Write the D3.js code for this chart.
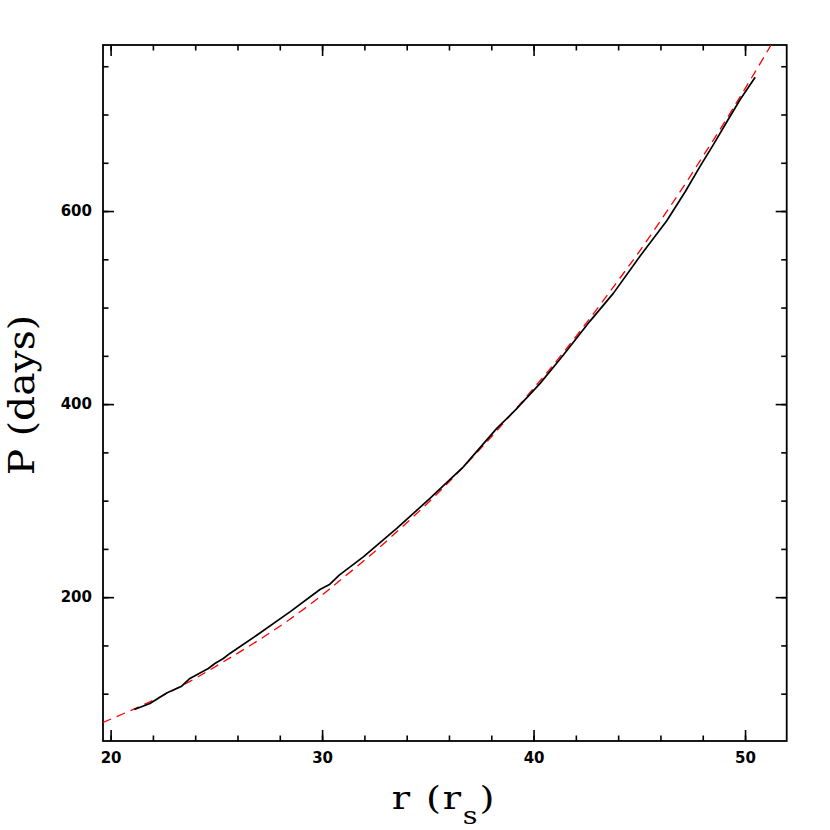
<!DOCTYPE html>
<html>
<head>
<meta charset="utf-8">
<script src="https://cdn.jsdelivr.net/npm/d3@7"></script>
<style>
  html, body { margin: 0; padding: 0; background: #fff; }
  svg { display: block; }
</style>
</head>
<body>
<svg id="chart" width="830" height="830"></svg>
<script>
// ---- Data ----
const simR = [21.12, 21.86, 22.65, 23.36, 23.75, 24.62, 24.93, 25.33, 25.64, 26.91, 28.48, 29.90, 30.37, 30.81, 31.95, 33.53, 35.10, 36.68, 38.26, 39.17, 40.31, 41.41, 42.67, 43.77, 45.04, 46.30, 47.17, 47.88, 48.51, 49.14, 49.77, 50.48];
const simP = [83.6, 89.9, 100.8, 107.8, 115.8, 126.1, 131.3, 136.5, 141.7, 160.6, 184.8, 208.0, 213.5, 222.8, 241.8, 271.2, 302.3, 335.0, 374.8, 394.5, 421.5, 450.8, 486.0, 514.7, 553.5, 590.0, 620.0, 646.5, 669.0, 692.5, 715.5, 738.5];

const fitR = [19.64, 21.86, 23.75, 25.33, 26.91, 28.48, 30.06, 30.81, 32.11, 33.53, 34.95, 36.21, 37.47, 38.26, 39.99, 41.25, 42.67, 43.94, 45.04, 46.22, 47.09, 47.88, 48.51, 49.14, 49.77, 50.48, 51.27];
const fitP = [70.2, 91.6, 112.8, 133.0, 154.2, 177.2, 203.2, 216.8, 240.1, 267.7, 296.5, 324.0, 353.3, 372.4, 416.1, 449.1, 489.0, 526.2, 559.3, 597.0, 625.3, 652.3, 673.8, 695.9, 718.5, 744.2, 773.5];

const xMajorTicks = [20, 30, 40, 50];
const xMinorTicks = [20, 22, 24, 26, 28, 30, 32, 34, 36, 38, 40, 42, 44, 46, 48, 50];
const yMajorTicks = [200, 400, 600];
const yMinorTicks = [100, 150, 200, 250, 300, 350, 400, 450, 500, 550, 600, 650, 700, 750];

const xDomain = [19.64, 51.97];
const yDomain = [51, 772];

// ---- Layout ----
const svg = d3.select("#chart");
const L = 103, R = 786.7, T = 45, B = 741;

const x = d3.scaleLinear().domain(xDomain).range([L, R]);
const y = d3.scaleLinear().domain(yDomain).range([B, T]);

const tickFont = "'DejaVu Sans', sans-serif";
const MAJ = 11, MIN = 5.5;

svg.append("defs").append("clipPath").attr("id", "clip")
  .append("rect").attr("x", L).attr("y", T).attr("width", R - L).attr("height", B - T);

function styleAxis(g) {
  g.select(".domain").remove();
  g.selectAll(".tick line").attr("stroke", "#000").attr("stroke-width", 1.6);
  g.selectAll(".tick text").attr("fill", "#000")
    .style("font-family", tickFont).style("font-size", "15px").style("font-weight", "bold");
}

// bottom
svg.append("g").attr("transform", `translate(0,${B})`)
  .call(d3.axisBottom(x).tickValues(xMinorTicks).tickSizeInner(-MIN).tickSizeOuter(0).tickFormat(""))
  .call(styleAxis);
svg.append("g").attr("transform", `translate(0,${B})`)
  .call(d3.axisBottom(x).tickValues(xMajorTicks).tickSizeInner(-MAJ).tickSizeOuter(0).tickPadding(11).tickFormat(d3.format("d")))
  .call(styleAxis);
// top
svg.append("g").attr("transform", `translate(0,${T})`)
  .call(d3.axisTop(x).tickValues(xMinorTicks).tickSizeInner(-MIN).tickSizeOuter(0).tickFormat(""))
  .call(styleAxis);
svg.append("g").attr("transform", `translate(0,${T})`)
  .call(d3.axisTop(x).tickValues(xMajorTicks).tickSizeInner(-MAJ).tickSizeOuter(0).tickFormat(""))
  .call(styleAxis);
// left
svg.append("g").attr("transform", `translate(${L},0)`)
  .call(d3.axisLeft(y).tickValues(yMinorTicks).tickSizeInner(-MIN).tickSizeOuter(0).tickFormat(""))
  .call(styleAxis);
svg.append("g").attr("transform", `translate(${L},0)`)
  .call(d3.axisLeft(y).tickValues(yMajorTicks).tickSizeInner(-MAJ).tickSizeOuter(0).tickPadding(11).tickFormat(d3.format("d")))
  .call(styleAxis);
// right
svg.append("g").attr("transform", `translate(${R},0)`)
  .call(d3.axisRight(y).tickValues(yMinorTicks).tickSizeInner(-MIN).tickSizeOuter(0).tickFormat(""))
  .call(styleAxis);
svg.append("g").attr("transform", `translate(${R},0)`)
  .call(d3.axisRight(y).tickValues(yMajorTicks).tickSizeInner(-MAJ).tickSizeOuter(0).tickFormat(""))
  .call(styleAxis);

// frame
svg.append("rect").attr("x", L).attr("y", T).attr("width", R - L).attr("height", B - T)
  .attr("fill", "none").attr("stroke", "#000").attr("stroke-width", 1.8);

// ---- Curves ----
const smooth = d3.line().x(d => x(d[0])).y(d => y(d[1])).curve(d3.curveCatmullRom.alpha(0.5));

svg.append("path")
  .datum(fitR.map((r, i) => [r, fitP[i]]))
  .attr("clip-path", "url(#clip)")
  .attr("d", smooth)
  .attr("fill", "none").attr("stroke", "#ff0000").attr("stroke-width", 1.3)
  .attr("stroke-dasharray", "9,6");

svg.append("path")
  .datum(simR.map((r, i) => [r, simP[i]]))
  .attr("clip-path", "url(#clip)")
  .attr("d", d3.line().x(d => x(d[0])).y(d => y(d[1])))
  .attr("fill", "none").attr("stroke", "#000").attr("stroke-width", 1.7)
  .attr("stroke-linejoin", "round");

// ---- Axis titles ----
const serif = "'DejaVu Serif', serif";
svg.append("text")
  .attr("transform", "translate(34,395) rotate(-90) scale(1.09,1)")
  .attr("text-anchor", "middle")
  .style("font-family", serif).style("font-size", "36px")
  .attr("fill", "#000")
  .text("P (days)");

const xl = svg.append("text")
  .attr("transform", "translate(444,809) scale(1.2,1)")
  .attr("text-anchor", "middle")
  .style("font-family", serif).style("font-size", "32px")
  .style("letter-spacing", "1.5px")
  .attr("fill", "#000");
xl.append("tspan").text("r (r");
xl.append("tspan").attr("dy", 15).style("font-size", "24px").text("s");
xl.append("tspan").attr("dy", -15).text(")");
</script>
</body>
</html>
